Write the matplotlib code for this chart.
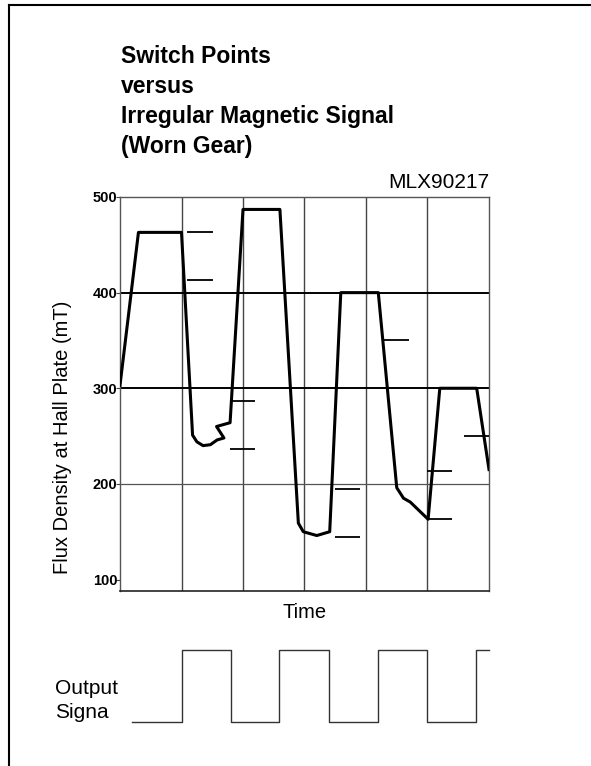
import matplotlib
matplotlib.use('Agg')
from matplotlib import pyplot as plt

plt.rcParams['font.family'] = ['Liberation Sans', 'DejaVu Sans']

# magnetic signal (time in gear-tooth units, flux in mT)
sig_t = [0.0, 0.30, 1.00, 1.18, 1.25, 1.35, 1.47, 1.58, 1.69, 1.57, 1.79, 2.00, 2.60,
         2.90, 2.98, 3.20, 3.41, 3.59, 4.20, 4.50, 4.61, 4.72, 5.01, 5.20, 5.80, 6.00]
sig_b = [303, 463, 463, 251, 244, 240, 241, 246, 248, 260, 264, 487, 487,
         159, 150, 146, 150, 400, 400, 196, 185, 181, 163, 300, 300, 215]

# switch point markers (short dashes)
sw_x0 = [1.09, 1.09, 1.79, 1.79, 3.50, 3.50, 4.28, 4.99, 4.99, 5.60]
sw_x1 = [1.51, 1.51, 2.20, 2.20, 3.90, 3.90, 4.70, 5.40, 5.40, 6.00]
sw_b = [463, 413, 287, 237, 195, 144, 350, 213, 163, 250]

# output signal transitions
out_t = [0.19, 1.00, 1.00, 1.80, 1.80, 2.59, 2.59, 3.40, 3.40, 4.19, 4.19, 5.00, 5.00, 5.79, 5.79, 6.00]
out_v = [0, 0, 1, 1, 0, 0, 1, 1, 0, 0, 1, 1, 0, 0, 1, 1]

W, H = 591, 766
fig = plt.figure(figsize=(W / 100, H / 100), dpi=100)

# page border (left and top only)
fig.add_artist(plt.Line2D([9 / W, 9 / W], [0, 1 - 5 / H], color='black', lw=1.5))
fig.add_artist(plt.Line2D([9 / W, 1], [1 - 5 / H, 1 - 5 / H], color='black', lw=1.5))

title_lines = ['Switch Points', 'versus', 'Irregular Magnetic Signal', '(Worn Gear)']
for i, line in enumerate(title_lines):
    fig.text(121 / W, 1 - (63 + 30 * i) / H, line, fontsize=16.5, fontweight='bold',
             va='baseline', ha='left')

ax = fig.add_axes([120 / W, 175 / H, 369 / W, 394 / H])
ax.plot(sig_t, sig_b, color='black', lw=2.2, solid_joinstyle='round', zorder=3)
ax.hlines(sw_b, sw_x0, sw_x1, color='black', lw=1.3, zorder=3)

for xv in range(1, 6):
    ax.axvline(xv, color='#444444', lw=1.0, zorder=1)
ax.axhline(400, color='black', lw=1.4, zorder=1)
ax.axhline(300, color='black', lw=1.4, zorder=1)
ax.axhline(200, color='#555555', lw=0.9, zorder=1)

ax.set_xlim(0, 6)
ax.set_ylim(88, 500)
ax.set_xticks([])
ax.set_yticks([100, 200, 300, 400, 500])
ax.set_yticklabels(['100', '200', '300', '400', '500'], fontweight='bold', fontsize=10.5)
ax.tick_params(axis='y', length=3, pad=-1, color='#444444')
for s in ['left', 'right', 'top']:
    ax.spines[s].set_color('#555555')
    ax.spines[s].set_linewidth(1.0)
ax.spines['bottom'].set_color('#222222')
ax.spines['bottom'].set_linewidth(1.2)

fig.text(63 / W, 1 - 437 / H, 'Flux Density at Hall Plate (mT)', fontsize=14.5,
         rotation=90, ha='center', va='center')
fig.text(304.5 / W, 1 - 613 / H, 'Time', fontsize=14.5, ha='center', va='center')
ax.text(1.0, 1.012, 'MLX90217', transform=ax.transAxes, ha='right', va='bottom', fontsize=15)

# output signal panel
ax2 = fig.add_axes([120 / W, 44 / H, 369 / W, 72 / H])
ax2.plot(out_t, out_v, color='#333333', lw=1.0, clip_on=False)
ax2.set_xlim(0, 6)
ax2.set_ylim(0, 1)
ax2.axis('off')
fig.text(55 / W, 1 - 688 / H, 'Output', fontsize=15, va='center', ha='left')
fig.text(55 / W, 1 - 712 / H, 'Signa', fontsize=15, va='center', ha='left')

plt.savefig('out.png', dpi=100)
